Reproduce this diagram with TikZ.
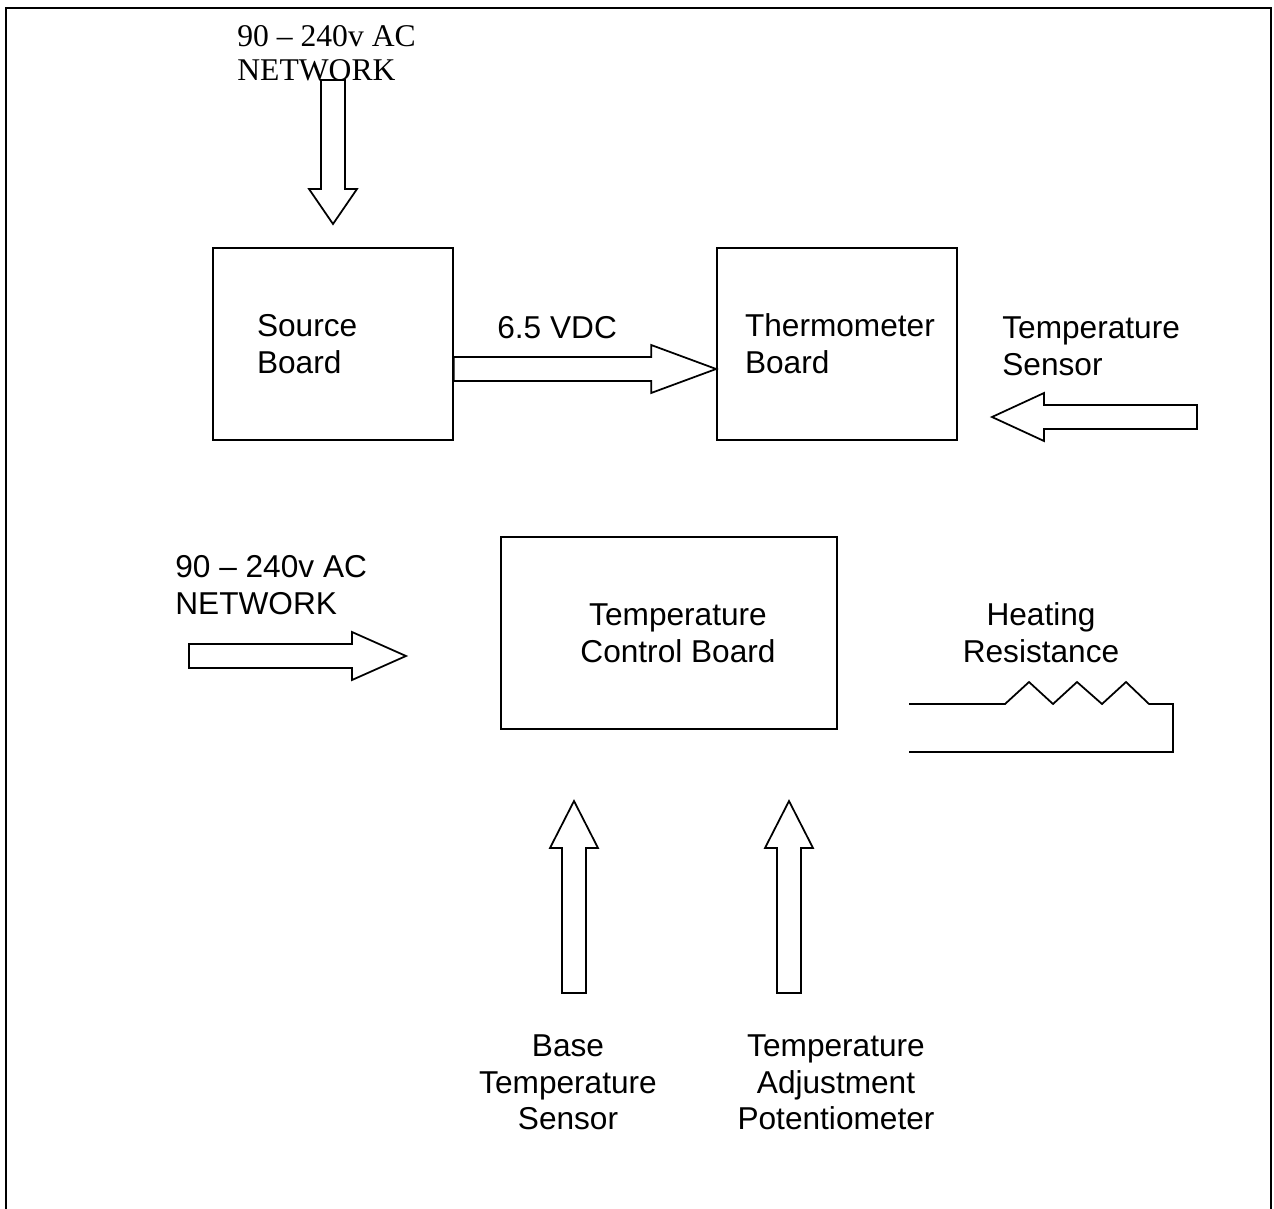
\documentclass[tikz,border=0pt]{standalone}
\usepackage{fontspec}
\setmainfont{Liberation Sans}
\newfontfamily\timesfont{Liberation Serif}
\usetikzlibrary{calc}

\tikzset{
  board/.style={draw, line width=1pt, minimum width=4.8cm, minimum height=3.84cm, font=\fontsize{18}{21}\selectfont},
  lbl/.style={inner sep=0pt, font=\fontsize{18}{21}\selectfont},
  fatline/.style={draw, line width=1pt, fill=white, line join=miter},
  wire/.style={line width=1pt}
}

\newcommand{\fatarrow}[3]{
  \coordinate (h) at ($(#3)!#1!(#2)$);
  \draw[fatline] ($(#2)!0.24cm!90:(#3)$) -- ($(h)!0.24cm!-90:(#2)$) -- ($(h)!0.48cm!-90:(#2)$) -- (#3)
    -- ($(h)!0.48cm!90:(#2)$) -- ($(h)!0.24cm!90:(#2)$) -- ($(#2)!0.24cm!-90:(#3)$) -- cycle;
}

\begin{document}
\begin{tikzpicture}[x=0.02cm, y=-0.02cm]
    \useasboundingbox (0,0) rectangle (1274,1209);
    \draw[line width=1.1pt] (6,1215) -- (6,8) -- (1271,8) -- (1271,1215);

    \node[board, align=left, text width=3.04cm, inner xsep=0.88cm] (source) at (333,344) {Source\\Board};
    \node[board, align=left, text width=3.68cm, inner xsep=0.56cm] (thermo) at (837,344) {Thermometer\\Board};
    \node[board, minimum width=6.72cm, align=center] (control) at (669,633) {\hspace*{0.36cm}Temperature\\\hspace*{0.36cm}Control Board};

    \node[lbl, align=left, anchor=north west, font=\timesfont\fontsize{18}{19.3}\selectfont] (acTop) at (237,25) {90 – 240v AC\\NETWORK};
    \node[lbl, anchor=north west] (vdc) at (497,316) {6.5 VDC};
    \node[lbl, align=left, anchor=north west] (sensor) at (1002,316) {Temperature\\Sensor};
    \node[lbl, align=left, anchor=north west] (acLeft) at (175,555) {90 – 240v AC\\NETWORK};
    \node[lbl, align=center, anchor=north] (heat) at (1041,602) {Heating\\Resistance};
    \node[lbl, align=center, anchor=north] (base) at (568,1034) {Base\\Temperature\\Sensor};
    \node[lbl, align=center, anchor=north] (adjust) at (836,1034) {Temperature\\Adjustment\\Potentiometer};

    \coordinate (acTopTail) at (333,80);
    \coordinate (acTopTip) at (333,224);
    \coordinate (vdcTail) at ([yshift=-0.5cm]source.east);
    \coordinate (vdcTip) at ([yshift=-0.5cm]thermo.west);
    \coordinate (sensorTail) at (1197,417);
    \coordinate (sensorTip) at (992,417);
    \coordinate (acLeftTail) at (189,656);
    \coordinate (acLeftTip) at (406,656);
    \coordinate (baseTail) at (574,993);
    \coordinate (baseTip) at (574,801);
    \coordinate (adjustTail) at (789,993);
    \coordinate (adjustTip) at (789,801);

    \fatarrow{0.7cm}{acTopTail}{acTopTip}
    \fatarrow{1.3cm}{vdcTail}{vdcTip}
    \fatarrow{1.04cm}{sensorTail}{sensorTip}
    \fatarrow{1.08cm}{acLeftTail}{acLeftTip}
    \fatarrow{0.94cm}{baseTail}{baseTip}
    \fatarrow{0.94cm}{adjustTail}{adjustTip}

    \draw[wire] (909,704) -- (1005,704) -- (1029,682) -- (1053,704) -- (1077,682) -- (1102,704)
        -- (1126,682) -- (1149,704) -- (1173,704) -- (1173,752) -- (909,752);
\end{tikzpicture}
\end{document}
